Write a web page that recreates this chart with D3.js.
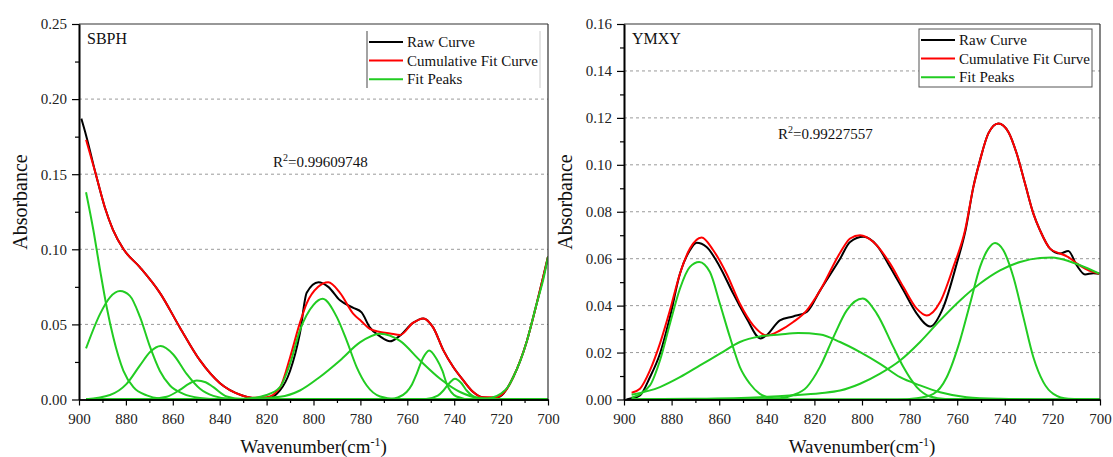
<!DOCTYPE html>
<html>
<head>
<meta charset="utf-8">
<script src="https://cdn.jsdelivr.net/npm/d3@7"></script>
<style>
  body { margin: 0; background: #fff; }
  svg { display: block; font-family: "Liberation Serif", "Times New Roman", serif; }
</style>
</head>
<body>
<div id="chart"></div>
<script>
// ---- data: [wavenumber, absorbance] ----
const xTicks = [900, 880, 860, 840, 820, 800, 780, 760, 740, 720, 700];
const xMinor = [890, 870, 850, 830, 810, 790, 770, 750, 730, 710];
const sbphYTicks = [0, 0.05, 0.10, 0.15, 0.20, 0.25];
const ymxyYTicks = [0, 0.02, 0.04, 0.06, 0.08, 0.10, 0.12, 0.14, 0.16];
const legendLabels = ["Raw Curve", "Cumulative Fit Curve", "Fit Peaks"];

const sbphRaw = [
  [899, 0.187], [897, 0.176], [893, 0.151], [889, 0.128], [885.5, 0.113], [881, 0.100],
  [874, 0.088], [865.5, 0.071], [857, 0.048], [848.4, 0.026], [840, 0.011], [831, 0.003],
  [826, 0.001], [820, 0.0005], [814.3, 0.006], [810, 0.019], [805.8, 0.044], [802.9, 0.071],
  [797.9, 0.078], [793.7, 0.075], [788.7, 0.066], [783, 0.061], [779.5, 0.058], [776, 0.048],
  [771.6, 0.042], [767.4, 0.0387], [763, 0.0427], [757.6, 0.051], [753.2, 0.054], [749, 0.048],
  [744.6, 0.0327], [740.4, 0.0216], [736.1, 0.0127], [731.9, 0.005], [728, 0.0015], [724, 0.001],
  [720.5, 0.002], [714.8, 0.015], [709, 0.039], [704.8, 0.064], [700, 0.095]
];
const sbphFit = [
  [897, 0.173], [893, 0.151], [889, 0.128], [885.5, 0.113], [881, 0.100], [874, 0.088],
  [865.5, 0.071], [857, 0.048], [848.4, 0.026], [840, 0.011], [831, 0.003], [826, 0.0012],
  [820, 0.0015], [814.3, 0.008], [810, 0.028], [805.8, 0.051], [802.9, 0.064], [798, 0.075],
  [793.7, 0.078], [788.7, 0.071], [783, 0.057], [779.5, 0.052], [776, 0.047], [771.6, 0.045],
  [767.4, 0.044], [763, 0.043], [757.6, 0.051], [753.2, 0.054], [749, 0.048], [744.6, 0.0327],
  [740.4, 0.0216], [736.1, 0.0127], [731.9, 0.005], [728, 0.0015], [722, 0.0015], [718, 0.006],
  [714.8, 0.015], [709, 0.039], [704.8, 0.064], [700, 0.095]
];
const sbphPeaks = [
  [[897, 0.138], [893.9, 0.113], [891, 0.086], [888.2, 0.0616], [885.4, 0.0416], [881.1, 0.0193],
   [876.8, 0.0082], [871.1, 0.0027], [865.5, 0.0007], [855, 0], [700, 0]],
  [[897, 0.034], [891, 0.057], [886.8, 0.068], [882.5, 0.0722], [878.3, 0.069], [874, 0.055],
   [869.7, 0.035], [865.5, 0.019], [861.2, 0.0093], [855.5, 0.0038], [848.4, 0.001], [840, 0], [700, 0]],
  [[897, 0.0002], [886.8, 0.003], [879.7, 0.0104], [874, 0.0227], [869.7, 0.0316], [865.2, 0.0356],
   [859.8, 0.030], [854.1, 0.017], [848.4, 0.0071], [842.7, 0.0024], [835, 0.0003], [825, 0], [700, 0]],
  [[897, 0], [870, 0.0003], [862.6, 0.0018], [857, 0.0064], [853, 0.0105], [849.8, 0.0127],
   [846, 0.0115], [842.7, 0.0082], [837, 0.002], [830, 0.0002], [700, 0]],
  [[897, 0], [830, 0.0005], [820, 0.003], [814.3, 0.0082], [810, 0.0238], [805.8, 0.046],
   [800, 0.063], [796.1, 0.067], [790.1, 0.055], [785.8, 0.039], [781.6, 0.0216], [777.3, 0.0093],
   [771.6, 0.002], [765, 0.0003], [750, 0], [700, 0]],
  [[897, 0], [830, 0.0003], [814.3, 0.0018], [805.8, 0.006], [797.3, 0.015], [788.7, 0.026],
   [780.2, 0.038], [771.6, 0.0438], [763.1, 0.039], [754.6, 0.026], [746, 0.0138], [737.5, 0.005],
   [729, 0.001], [715, 0], [700, 0]],
  [[897, 0], [767, 0.0003], [764, 0.0013], [760.3, 0.005], [758, 0.010], [756, 0.0171], [753.2, 0.028],
   [750.7, 0.0327], [747.5, 0.027], [745, 0.019], [743.2, 0.0104], [739, 0.002], [733, 0], [700, 0]],
  [[897, 0], [752, 0.0003], [747, 0.0025], [744.6, 0.006], [742, 0.011], [739.7, 0.0138],
   [737, 0.011], [734.7, 0.006], [732, 0.0022], [728, 0.0002], [700, 0]],
  [[897, 0], [735, 0], [728, 0.0003], [724, 0.0012], [720, 0.004], [716.8, 0.009], [714.8, 0.015],
   [712, 0.025], [709, 0.039], [704.8, 0.064], [702, 0.080], [700, 0.095]]
];

const ymxyRaw = [
  [899, 0], [896.8, 0.0005], [893.3, 0.0017], [889.1, 0.0095], [884.9, 0.0195], [880.7, 0.0351],
  [876.5, 0.0536], [872.3, 0.0636], [869.5, 0.0668], [865.3, 0.065], [859.7, 0.0565], [854.1, 0.0451],
  [848.4, 0.0344], [842.7, 0.026], [840, 0.0275], [834.5, 0.0337], [828.9, 0.0354], [823.2, 0.0373],
  [817.6, 0.0465], [809.2, 0.060], [805, 0.0671], [799.4, 0.0693], [793.8, 0.0657], [788.2, 0.0565],
  [782.6, 0.0465], [777, 0.0366], [771.4, 0.0311], [765.8, 0.0394], [760.2, 0.0579], [756.5, 0.0721],
  [753.2, 0.0906], [750.4, 0.102], [746.9, 0.1134], [742.7, 0.1176], [738.5, 0.114], [735, 0.1048],
  [731.5, 0.092], [728, 0.0792], [725.2, 0.0721], [721, 0.0643], [716.8, 0.0622], [713.3, 0.0633],
  [709.8, 0.0572], [706.3, 0.0533], [702.8, 0.0538], [700.3, 0.0536]
];
const ymxyFit = [
  [896.8, 0.0029], [893.3, 0.0046], [889.1, 0.0124], [884.9, 0.0238], [880.7, 0.038], [876.5, 0.0536],
  [872.3, 0.0643], [867.4, 0.069], [862.5, 0.0636], [856.9, 0.0536], [851.3, 0.0408], [845.7, 0.0316],
  [840, 0.0273], [834.5, 0.0294], [828.9, 0.033], [823.2, 0.038], [817.6, 0.0465], [809.2, 0.0625],
  [805, 0.0686], [800.8, 0.070], [795.2, 0.0671], [788.2, 0.0579], [782.6, 0.0479], [777, 0.0387],
  [772.8, 0.0358], [767.2, 0.0415], [761.6, 0.0565], [756.7, 0.0721], [753.2, 0.0906], [750.4, 0.102],
  [746.9, 0.1134], [742.7, 0.1176], [738.5, 0.114], [735, 0.1048], [731.5, 0.092], [728, 0.0792],
  [725.2, 0.0721], [721, 0.0643], [716.8, 0.0622], [713.3, 0.0607], [709.8, 0.058], [706.3, 0.0558],
  [702.8, 0.0543], [700.3, 0.0536]
];
const ymxyPeaks = [
  [[896.8, 0.0008], [889.1, 0.006], [884.9, 0.0166], [880.7, 0.0323], [876.5, 0.0472], [872.3, 0.0565],
   [868.4, 0.0586], [863.9, 0.0543], [859.7, 0.0408], [855.5, 0.0266], [851.3, 0.0138], [847.1, 0.0067],
   [842.9, 0.0024], [837.3, 0.0005], [830, 0], [700, 0]],
  [[896.8, 0.002], [884.9, 0.0053], [876.5, 0.0095], [868.1, 0.0145], [859.7, 0.0195], [851.3, 0.0245],
   [842.9, 0.0269], [834.5, 0.0277], [826.8, 0.0283], [817.6, 0.0277], [809.2, 0.0245], [800.8, 0.0202],
   [792.4, 0.0152], [784, 0.0095], [775.6, 0.006], [767.2, 0.0031], [756, 0.001], [742, 0.0003],
   [720, 0], [700, 0]],
  [[896.8, 0], [845, 0.0001], [834.5, 0.0005], [828.9, 0.0019], [823.2, 0.0053], [817.6, 0.014],
   [812, 0.0266], [806.4, 0.038], [799.7, 0.043], [793.8, 0.0366], [786.8, 0.0223], [782.6, 0.0138],
   [777, 0.0053], [771.4, 0.0013], [765, 0.0002], [700, 0]],
  [[896.8, 0], [785, 0], [777, 0.0005], [770, 0.0024], [764.4, 0.0095], [758.8, 0.0252], [754.6, 0.0408],
   [750.4, 0.0565], [746.9, 0.0643], [744.1, 0.0667], [740.6, 0.0636], [736.4, 0.0522], [732.2, 0.0351],
   [728, 0.018], [723.8, 0.0074], [719.6, 0.0024], [713.3, 0.0003], [700, 0]],
  [[896.8, 0.0001], [870.7, 0.0003], [842.9, 0.001], [828.9, 0.0018], [817.6, 0.0027], [809.2, 0.0038],
   [800.8, 0.0067], [792.4, 0.011], [784, 0.0166], [775.6, 0.0245], [767.2, 0.0337], [758.8, 0.0422],
   [750.4, 0.0494], [742, 0.055], [733.6, 0.0586], [725.2, 0.0603], [720.3, 0.0605], [716.8, 0.060],
   [708.4, 0.0572], [700.3, 0.0536]]
];

const width = 1113, height = 457;
const colors = { raw: "#000000", fit: "#ff0000", peak: "#22cc22" };

const svg = d3.select("#chart")
  .append("svg")
  .attr("width", width)
  .attr("height", height);

function drawPanel(cfg, idx) {
  const top = 24, bottom = 399.5;
  const x = d3.scaleLinear().domain([900, 700]).range([cfg.left, cfg.right]);
  const y = d3.scaleLinear().domain([0, cfg.yMax]).range([bottom, top]);
  const g = svg.append("g");

  // dashed grid lines
  g.selectAll("line.grid")
    .data(cfg.yTicks.filter(d => d > 0 && d < cfg.yMax - 1e-9))
    .join("line")
      .attr("class", "grid")
      .attr("x1", cfg.left).attr("x2", cfg.right)
      .attr("y1", d => y(d)).attr("y2", d => y(d))
      .attr("stroke", "#9a9a9a")
      .attr("stroke-width", 1)
      .attr("stroke-dasharray", "3,3");

  // curves
  const clipId = "clip" + idx;
  svg.append("clipPath").attr("id", clipId)
    .append("rect")
      .attr("x", cfg.left).attr("y", top)
      .attr("width", cfg.right - cfg.left).attr("height", bottom - top + 1);

  const line = d3.line()
    .x(d => x(d[0]))
    .y(d => y(d[1]))
    .curve(d3.curveMonotoneX);

  const cg = g.append("g").attr("clip-path", `url(#${clipId})`);
  cg.append("path").datum(cfg.raw)
    .attr("d", line).attr("fill", "none")
    .attr("stroke", colors.raw).attr("stroke-width", 2);
  cg.append("path").datum(cfg.fit)
    .attr("d", line).attr("fill", "none")
    .attr("stroke", colors.fit).attr("stroke-width", 2);
  cg.selectAll("path.peak")
    .data(cfg.peaks)
    .join("path")
      .attr("class", "peak")
      .attr("d", line).attr("fill", "none")
      .attr("stroke", colors.peak).attr("stroke-width", 2);

  // frame (top / right)
  g.append("line")
    .attr("x1", cfg.left).attr("x2", cfg.right).attr("y1", top).attr("y2", top)
    .attr("stroke", "#333").attr("stroke-width", 1.2);
  g.append("line")
    .attr("x1", cfg.right).attr("x2", cfg.right).attr("y1", top).attr("y2", bottom)
    .attr("stroke", "#333").attr("stroke-width", 1.2);

  // axes
  const yAxis = g.append("g")
    .attr("transform", `translate(${cfg.left},0)`)
    .call(d3.axisLeft(y).tickValues(cfg.yTicks).tickSize(7).tickSizeOuter(0)
      .tickPadding(5).tickFormat(d3.format(".2f")));
  const yMinorTicks = d3.range(cfg.yTicks.length - 1)
    .map(i => (cfg.yTicks[i] + cfg.yTicks[i + 1]) / 2);
  g.append("g")
    .attr("transform", `translate(${cfg.left},0)`)
    .call(d3.axisLeft(y).tickValues(yMinorTicks).tickSize(4).tickSizeOuter(0).tickFormat(""));

  const xAxis = g.append("g")
    .attr("transform", `translate(0,${bottom})`)
    .call(d3.axisBottom(x).tickValues(xTicks).tickSize(6).tickSizeOuter(0)
      .tickPadding(8).tickFormat(d3.format("d")));
  g.append("g")
    .attr("transform", `translate(0,${bottom})`)
    .call(d3.axisBottom(x).tickValues(xMinor).tickSize(3.5).tickSizeOuter(0).tickFormat(""));

  g.selectAll(".domain").attr("stroke", "#000").attr("stroke-width", 1.6);
  g.selectAll(".tick line").attr("stroke", "#000").attr("stroke-width", 1.2);
  [yAxis, xAxis].forEach(a => {
    a.attr("font-family", null);
    a.selectAll("text")
      .style("font-family", "'Liberation Serif', serif")
      .style("font-size", "15px")
      .attr("fill", "#222");
  });

  // axis titles
  g.append("text")
    .attr("transform", `translate(${cfg.left - 52},202) rotate(-90)`)
    .attr("text-anchor", "middle")
    .style("font-size", "20px")
    .attr("fill", "#111")
    .text("Absorbance");

  const xt = g.append("text")
    .attr("x", (cfg.left + cfg.right) / 2)
    .attr("y", 453)
    .attr("text-anchor", "middle")
    .style("font-size", "19px")
    .attr("fill", "#111");
  xt.append("tspan").text("Wavenumber(cm");
  xt.append("tspan").attr("dy", -7).style("font-size", "12px").text("-1");
  xt.append("tspan").attr("dy", 7).text(")");

  // sample label
  g.append("text")
    .attr("x", cfg.left + 8).attr("y", 44)
    .style("font-size", "16px")
    .attr("fill", "#111")
    .text(cfg.label);

  // R^2
  const rt = g.append("text")
    .attr("x", cfg.r2x).attr("y", cfg.r2y)
    .style("font-size", "15px")
    .attr("fill", "#111");
  rt.append("tspan").text("R");
  rt.append("tspan").attr("dy", -6).style("font-size", "10px").text("2");
  rt.append("tspan").attr("dy", 6).text("=" + cfg.r2);

  // legend
  const lg = cfg.legend;
  if (lg.full) {
    g.append("rect")
      .attr("x", lg.x).attr("y", lg.y).attr("width", lg.w).attr("height", lg.h)
      .attr("fill", "#fff").attr("stroke", "#555").attr("stroke-width", 1);
  } else {
    g.append("rect")
      .attr("x", lg.x).attr("y", lg.y).attr("width", lg.w).attr("height", lg.h)
      .attr("fill", "#fff");
    g.append("line")
      .attr("x1", lg.x).attr("x2", lg.x).attr("y1", lg.y).attr("y2", lg.y + lg.h)
      .attr("stroke", "#666").attr("stroke-width", 1.2);
    g.append("line")
      .attr("x1", lg.x + lg.w).attr("x2", lg.x + lg.w).attr("y1", lg.y).attr("y2", lg.y + lg.h)
      .attr("stroke", "#ccc").attr("stroke-width", 1);
  }
  const legendColors = [colors.raw, colors.fit, colors.peak];
  const rows = g.selectAll("g.lrow")
    .data(legendLabels)
    .join("g")
      .attr("class", "lrow")
      .attr("transform", (d, i) => `translate(${lg.x + 2},${lg.y + 11 + i * 18.6})`);
  rows.append("line")
    .attr("x1", 0).attr("x2", 34)
    .attr("stroke", (d, i) => legendColors[i])
    .attr("stroke-width", 2);
  rows.append("text")
    .attr("x", 38).attr("y", 5)
    .style("font-size", "15px")
    .attr("fill", "#111")
    .text(d => d);
}

drawPanel({
  left: 79, right: 548, yMax: 0.25, yTicks: sbphYTicks,
  raw: sbphRaw, fit: sbphFit, peaks: sbphPeaks,
  label: "SBPH", r2: "0.99609748", r2x: 273, r2y: 167,
  legend: { x: 367, y: 31, w: 173, h: 57, full: false }
}, 0);

drawPanel({
  left: 624, right: 1100, yMax: 0.16, yTicks: ymxyYTicks,
  raw: ymxyRaw, fit: ymxyFit, peaks: ymxyPeaks,
  label: "YMXY", r2: "0.99227557", r2x: 778, r2y: 139,
  legend: { x: 919, y: 29, w: 173, h: 58, full: true }
}, 1);
</script>
</body>
</html>
